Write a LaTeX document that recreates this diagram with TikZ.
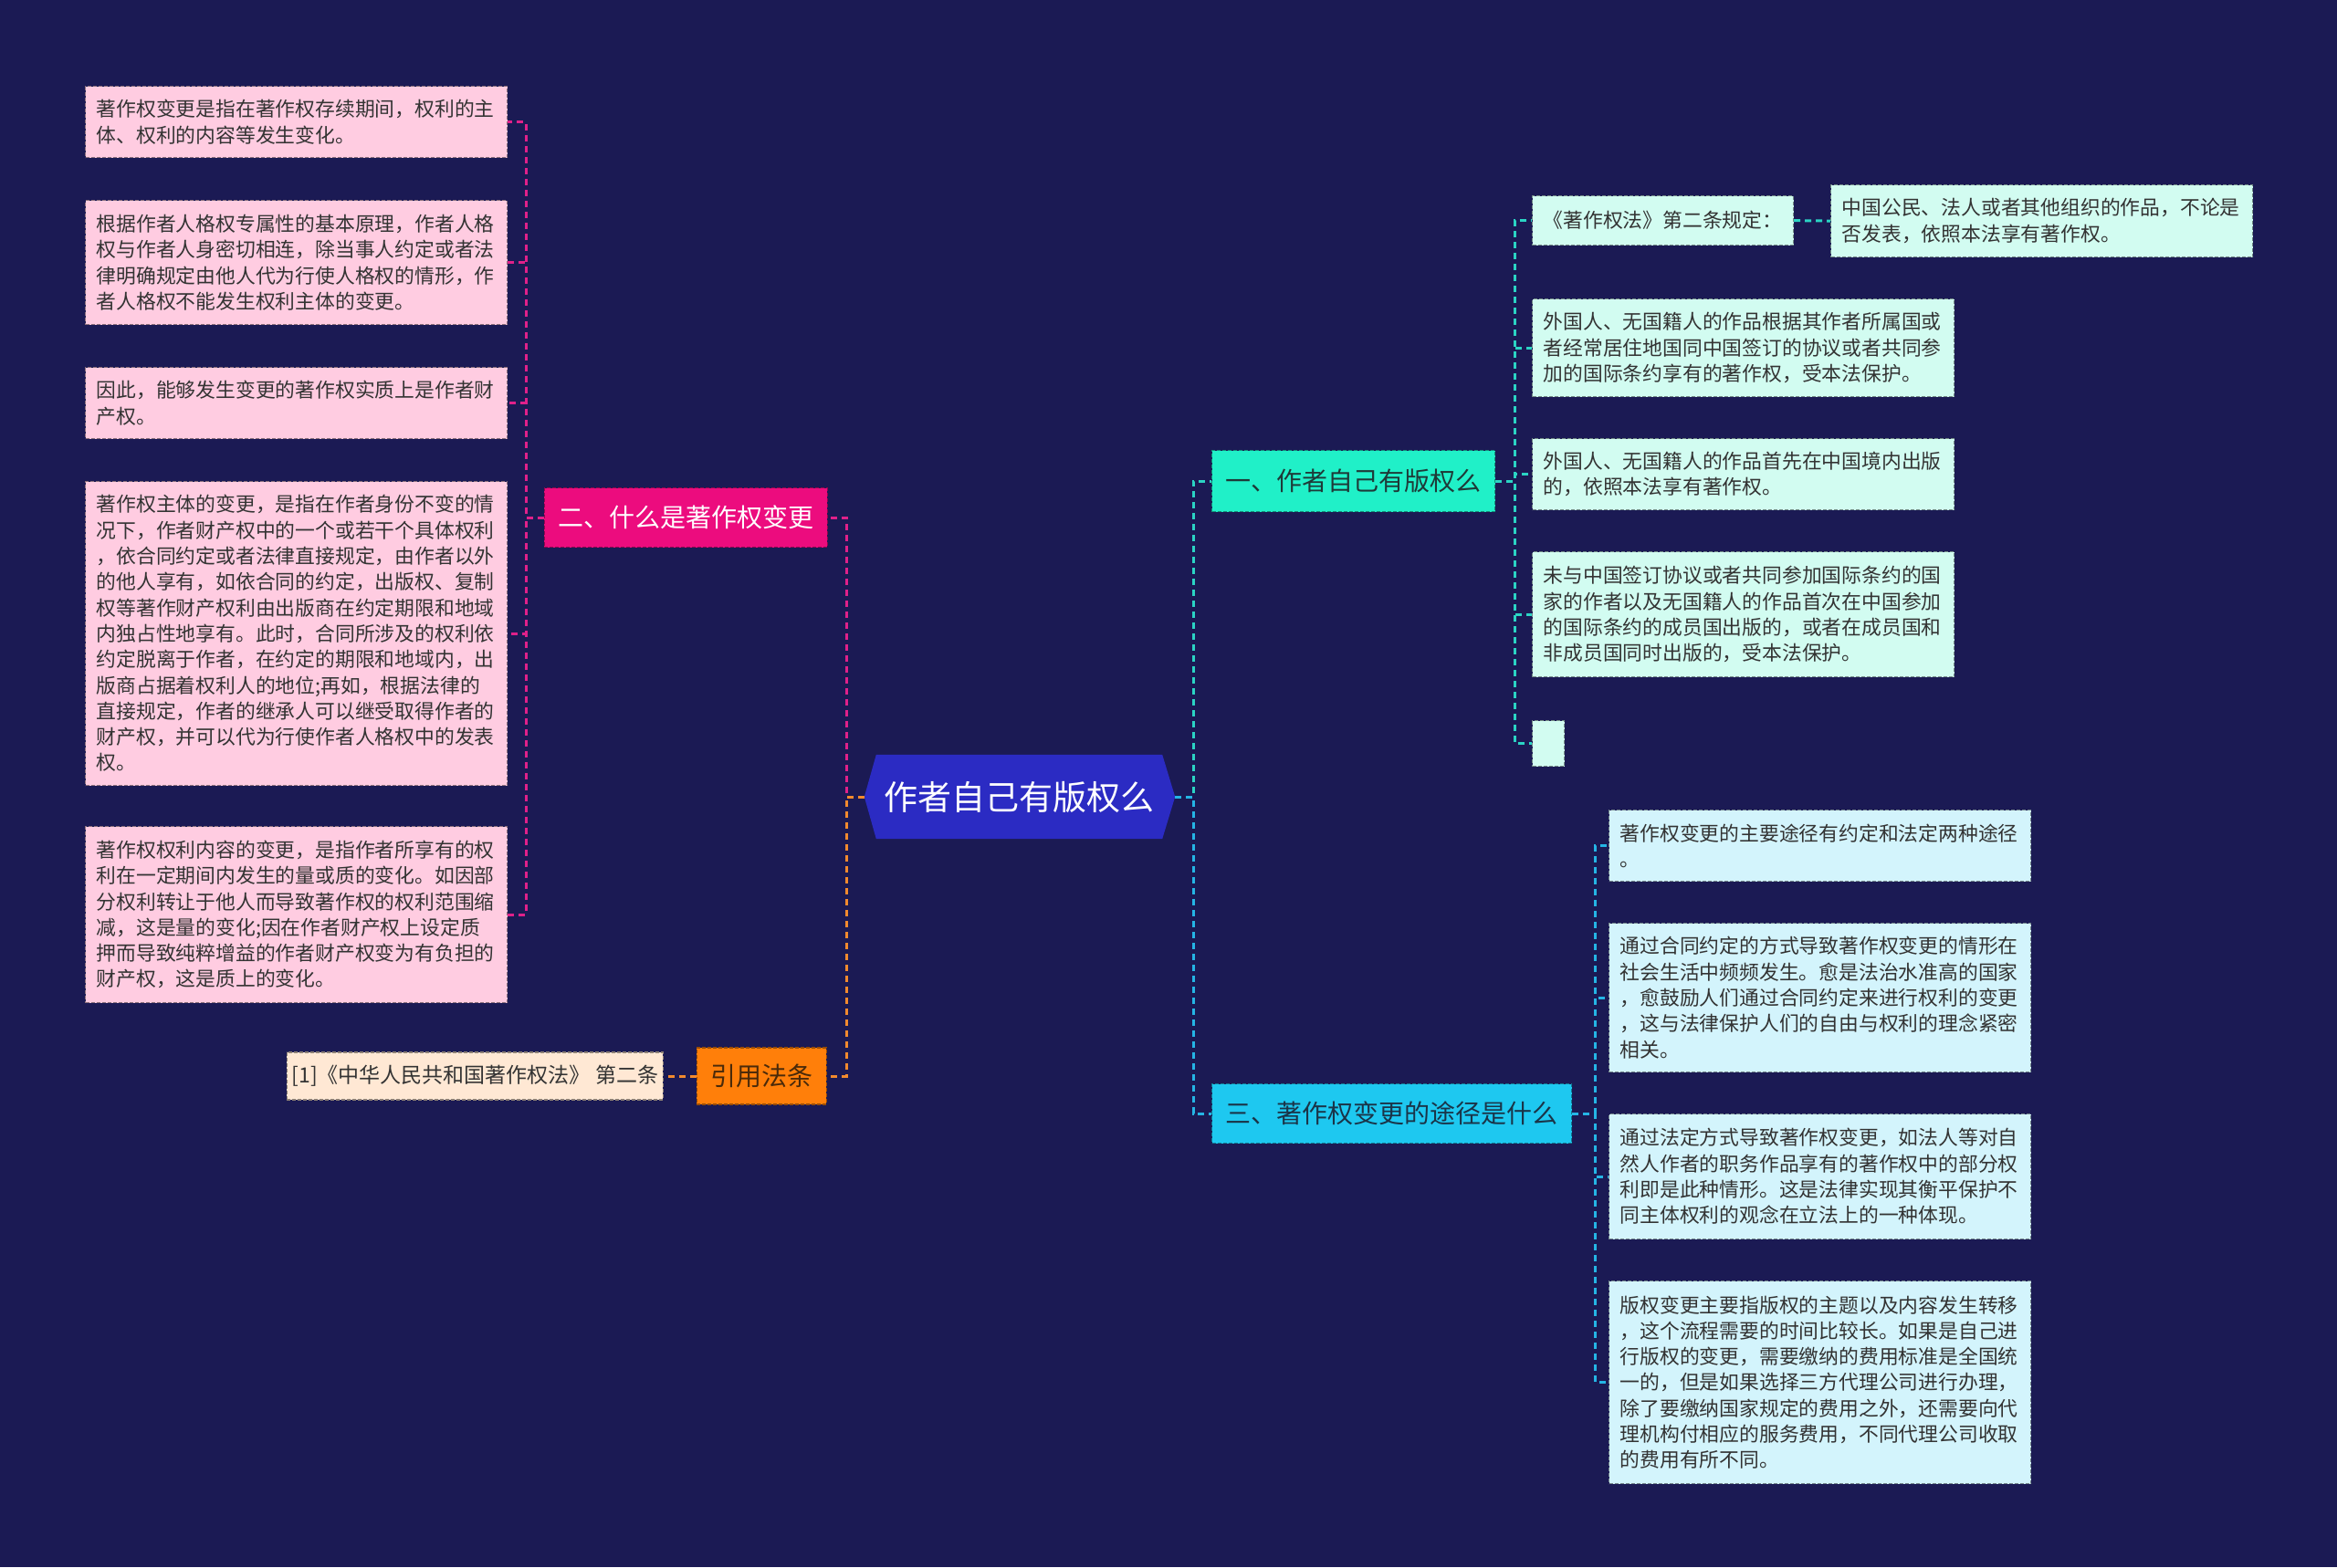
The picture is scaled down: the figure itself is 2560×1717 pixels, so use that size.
\documentclass[tikz,border=0pt]{standalone}
\usepackage{fontspec}
\setmainfont{Noto Sans CJK SC}
\usetikzlibrary{calc}
\pgfdeclarelayer{background}
\pgfsetlayers{background,main}
\definecolor{bgc}{HTML}{1B1A54}
\definecolor{hexfill}{HTML}{2B2BC3}
\definecolor{pinkN}{HTML}{EC0C7E}
\definecolor{pinkfill}{HTML}{FFCCE1}
\definecolor{pinkln}{HTML}{E0218A}
\definecolor{orangeN}{HTML}{FF7F0A}
\definecolor{citefill}{HTML}{FFE8D4}
\definecolor{orangeln}{HTML}{F28A2E}
\definecolor{tealN}{HTML}{20F0C8}
\definecolor{mintfill}{HTML}{D2FCF1}
\definecolor{tealln}{HTML}{2BD4C4}
\definecolor{cyanN}{HTML}{1EC8F0}
\definecolor{lightcyan}{HTML}{D3F4FC}
\definecolor{blueln}{HTML}{25B5E5}
\definecolor{txtdark}{HTML}{333333}
\definecolor{orangetxt}{HTML}{4A2A0A}
\definecolor{tealtxt}{HTML}{1E3A38}
\definecolor{cyantxt}{HTML}{1A3448}
\newcommand{\boxfont}{\fontsize{21.8pt}{28.3pt}\selectfont}
\newcommand{\branchfont}{\fontsize{28pt}{32pt}\selectfont}
\newcommand{\rootfont}{\fontsize{37pt}{42pt}\selectfont}
\tikzset{
  box/.style={rectangle, anchor=north west, inner xsep=12pt, inner ysep=0pt,
    text width=438pt, align=left, font=\boxfont, text=txtdark,
    line width=1.2pt, dash pattern=on 4pt off 2pt},
  pinkbox/.style={box, fill=pinkfill, draw=pinkfill!55!black},
  mintbox/.style={box, fill=mintfill, draw=mintfill!55!black},
  cyanbox/.style={box, fill=lightcyan, draw=lightcyan!55!black},
  branch/.style={rectangle, inner xsep=15pt, inner ysep=0pt, minimum height=65pt,
    font=\branchfont, line width=1.2pt, dash pattern=on 4pt off 2pt},
  conn/.style={line width=3pt, dash pattern=on 7pt off 5pt},
  pinkline/.style={conn, draw=pinkln},
  orangeline/.style={conn, draw=orangeln},
  tealline/.style={conn, draw=tealln},
  blueline/.style={conn, draw=blueln},
}
\begin{document}
\begin{tikzpicture}[x=1pt,y=1pt]
\useasboundingbox (0,0) rectangle (2560,-1717);
\begin{pgfonlayer}{background}
\fill[bgc] (0,0) rectangle (2560,-1717);
\end{pgfonlayer}

% root
\node[rectangle, minimum width=313pt, minimum height=92pt, inner sep=0pt,
  font=\rootfont, text=white] (root) at (1116.5,-873) {作者自己有版权么};
\coordinate (rootL) at ([xshift=-13pt]root.west);
\coordinate (rootR) at ([xshift=14pt]root.east);
\begin{pgfonlayer}{background}
\fill[hexfill] (root.north west) -- (root.north east) -- (rootR) -- (root.south east)
  -- (root.south west) -- (rootL) -- cycle;
\end{pgfonlayer}

% bus coordinates
\coordinate (busL) at (576,0);
\coordinate (busC) at (927,0);
\coordinate (busR) at (1307,0);
\coordinate (busT) at (1659,0);
\coordinate (busB) at (1747,0);

% branch nodes
\node[branch, anchor=east, fill=pinkN, draw=pinkN!60!black, text=white] (n2) at (907,-567) {二、什么是著作权变更};
\node[branch, anchor=east, fill=orangeN, draw=orangeN!60!black, text=orangetxt, minimum height=62pt] (cite) at (906,-1179) {引用法条};
\node[branch, anchor=west, fill=tealN, draw=tealN!60!black, text=tealtxt, minimum height=67pt] (n1) at (1327,-527) {一、作者自己有版权么};
\node[branch, anchor=west, fill=cyanN, draw=cyanN!60!black, text=cyantxt] (n3) at (1327,-1220) {三、著作权变更的途径是什么};

% left pink boxes
\node[pinkbox, minimum height=78pt] (p1) at (93,-94) {著作权变更是指在著作权存续期间，权利的主\\体、权利的内容等发生变化。};
\node[pinkbox, minimum height=136pt] (p2) at (93,-219) {根据作者人格权专属性的基本原理，作者人格\\权与作者人身密切相连，除当事人约定或者法\\律明确规定由他人代为行使人格权的情形，作\\者人格权不能发生权利主体的变更。};
\node[pinkbox, minimum height=78pt] (p3) at (93,-402) {因此，能够发生变更的著作权实质上是作者财\\产权。};
\node[pinkbox, minimum height=333pt] (p4) at (93,-527) {著作权主体的变更，是指在作者身份不变的情\\况下，作者财产权中的一个或若干个具体权利\\，依合同约定或者法律直接规定，由作者以外\\的他人享有，如依合同的约定，出版权、复制\\权等著作财产权利由出版商在约定期限和地域\\内独占性地享有。此时，合同所涉及的权利依\\约定脱离于作者，在约定的期限和地域内，出\\版商占据着权利人的地位;再如，根据法律的\\直接规定，作者的继承人可以继受取得作者的\\财产权，并可以代为行使作者人格权中的发表\\权。};
\node[pinkbox, minimum height=193pt] (p5) at (93,-905) {著作权权利内容的变更，是指作者所享有的权\\利在一定期间内发生的量或质的变化。如因部\\分权利转让于他人而导致著作权的权利范围缩\\减，这是量的变化;因在作者财产权上设定质\\押而导致纯粹增益的作者财产权变为有负担的\\财产权，这是质上的变化。};

% citation
\node[rectangle, anchor=east, fill=citefill, draw=citefill!55!black, line width=1.2pt,
  dash pattern=on 4pt off 2pt, minimum width=412pt, minimum height=52pt, inner sep=0pt,
  font=\fontsize{23pt}{28pt}\selectfont, text=txtdark] (ref) at (727,-1179) {[1]《中华人民共和国著作权法》 第二条};

% right top boxes
\node[mintbox, text width=262pt, minimum height=54pt] (t1) at (1678,-214) {《著作权法》第二条规定：};
\node[mintbox, minimum height=79pt] (t1b) at (2005,-202) {中国公民、法人或者其他组织的作品，不论是\\否发表，依照本法享有著作权。};
\node[mintbox, minimum height=107pt] (t2) at (1678,-327) {外国人、无国籍人的作品根据其作者所属国或\\者经常居住地国同中国签订的协议或者共同参\\加的国际条约享有的著作权，受本法保护。};
\node[mintbox, minimum height=78pt] (t3) at (1678,-480) {外国人、无国籍人的作品首先在中国境内出版\\的，依照本法享有著作权。};
\node[mintbox, minimum height=137pt] (t4) at (1678,-604) {未与中国签订协议或者共同参加国际条约的国\\家的作者以及无国籍人的作品首次在中国参加\\的国际条约的成员国出版的，或者在成员国和\\非成员国同时出版的，受本法保护。};
\node[rectangle, anchor=north west, fill=mintfill, draw=mintfill!55!black, line width=1.2pt,
  dash pattern=on 4pt off 2pt, minimum width=35pt, minimum height=50pt, inner sep=0pt] (t5) at (1678,-789) {};

% right bottom boxes
\node[cyanbox, minimum height=78pt] (b1) at (1762,-887) {著作权变更的主要途径有约定和法定两种途径\\。};
\node[cyanbox, minimum height=163pt] (b2) at (1762,-1011) {通过合同约定的方式导致著作权变更的情形在\\社会生活中频频发生。愈是法治水准高的国家\\，愈鼓励人们通过合同约定来进行权利的变更\\，这与法律保护人们的自由与权利的理念紧密\\相关。};
\node[cyanbox, minimum height=137pt] (b3) at (1762,-1220) {通过法定方式导致著作权变更，如法人等对自\\然人作者的职务作品享有的著作权中的部分权\\利即是此种情形。这是法律实现其衡平保护不\\同主体权利的观念在立法上的一种体现。};
\node[cyanbox, minimum height=222pt] (b4) at (1762,-1403) {版权变更主要指版权的主题以及内容发生转移\\，这个流程需要的时间比较长。如果是自己进\\行版权的变更，需要缴纳的费用标准是全国统\\一的，但是如果选择三方代理公司进行办理，\\除了要缴纳国家规定的费用之外，还需要向代\\理机构付相应的服务费用，不同代理公司收取\\的费用有所不同。};

% connectors
\foreach \c in {p1,p2,p3,p4,p5}
  \draw[pinkline] (n2.west) -- (n2.west -| busL) |- (\c.east);
\draw[pinkline] (rootL) -- (rootL -| busC) |- (n2.east);
\draw[orangeline] (rootL) -- (rootL -| busC) |- (cite.east);
\draw[orangeline] (cite.west) -- (ref.east);
\draw[tealline] (rootR) -- (rootR -| busR) |- (n1.west);
\draw[blueline] (rootR) -- (rootR -| busR) |- (n3.west);
\foreach \c in {t1,t2,t3,t4,t5}
  \draw[tealline] (n1.east) -- (n1.east -| busT) |- (\c.west);
\draw[tealline] (t1.east) -- (t1b.west);
\foreach \c in {b1,b2,b3,b4}
  \draw[blueline] (n3.east) -- (n3.east -| busB) |- (\c.west);
\end{tikzpicture}
\end{document}
